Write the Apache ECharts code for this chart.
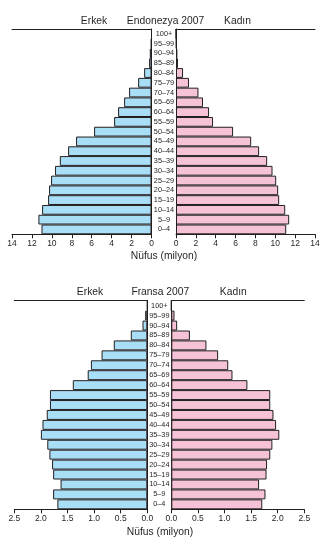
<!DOCTYPE html>
<html>
<head>
<meta charset="utf-8">
<script src="https://cdn.jsdelivr.net/npm/echarts@6/dist/echarts.min.js"></script>
<style>
html,body{margin:0;padding:0;background:#fff;}
#c{width:324px;height:553px;}
</style>
</head>
<body>
<div id="c"></div>
<script>
var ageGroups = ['0–4','5–9','10–14','15–19','20–24','25–29','30–34','35–39','40–44','45–49','50–54','55–59','60–64','65–69','70–74','75–79','80–84','85–89','90–94','95–99','100+'];
var indoMale   = [11.04,11.35,10.98,10.38,10.28,10.08,9.68,9.2,8.37,7.57,5.76,3.75,3.35,2.75,2.25,1.34,0.74,0.24,0.17,0.05,0];
var indoFemale = [11.1,11.4,11.0,10.39,10.29,10.09,9.72,9.18,8.37,7.57,5.75,3.73,3.33,2.72,2.26,1.31,0.71,0.2,0.14,0.05,0];
var franceMale   = [1.69,1.77,1.63,1.77,1.79,1.84,1.88,2.00,1.97,1.89,1.83,1.83,1.40,1.12,1.06,0.86,0.63,0.31,0.09,0.04,0];
var franceFemale = [1.71,1.77,1.65,1.79,1.80,1.86,1.90,2.03,1.97,1.92,1.86,1.86,1.43,1.15,1.07,0.88,0.66,0.35,0.11,0.06,0];
var indoTitle = 'Endonezya 2007';
var franceTitle = 'Fransa 2007';
var maleLabel = 'Erkek';
var femaleLabel = 'Kadın';
var axisTitle = 'Nüfus (milyon)';
var indoTicks = {min:0, max:14, interval:2};
var franceTicks = {min:0, max:2.5, interval:0.5};

var INK = '#231f20';
var BLUE = '#a9def7';
var PINK = '#f6c2d8';
var FONT = '"Liberation Sans", Arial, sans-serif';

var chart = echarts.init(document.getElementById('c'), null, {renderer:'canvas'});

var grids = [
  {left:12, top:29, width:139.5, height:205.3},
  {left:176, top:29, width:139, height:205.3},
  {left:14.3, top:300.7, width:133, height:208.6},
  {left:171.3, top:300.7, width:133, height:208.6}
];

var xAxes = [], yAxes = [], series = [];
function addSide(gi, ticks, inverse, decimals, data, color, showAgeLabels, labelMargin){
  xAxes.push({
    type:'value', gridIndex:gi, min:ticks.min, max:ticks.max, interval:ticks.interval,
    inverse:inverse, position:'bottom',
    axisLine:{show:true, lineStyle:{color:INK, width:1}},
    axisTick:{show:true, length:4, lineStyle:{color:INK, width:1}},
    axisLabel:{show:true, color:INK, fontSize:8.5, fontFamily:FONT, margin:5,
      showMinLabel:true, showMaxLabel:true,
      formatter:function(v){return v.toFixed(decimals);}},
    splitLine:{show:false}
  });
  xAxes.push({
    type:'value', gridIndex:gi, min:ticks.min, max:ticks.max, inverse:inverse, position:'top',
    axisLine:{show:true, onZero:false, lineStyle:{color:INK, width:1}},
    axisTick:{show:false}, axisLabel:{show:false}, splitLine:{show:false}
  });
  yAxes.push({
    type:'category', gridIndex:gi, data:ageGroups, position: inverse ? 'right' : 'left',
    axisLine:{show:true, onZero:false, lineStyle:{color:INK, width:1}},
    axisTick:{show:false},
    axisLabel:{show:showAgeLabels, color:INK, fontSize:7.3, fontFamily:FONT, align:'center', margin:labelMargin, interval:0},
    splitLine:{show:false}
  });
  series.push({
    type:'bar', xAxisIndex:xAxes.length-2, yAxisIndex:yAxes.length-1,
    data:data, barCategoryGap:'0%', barGap:'0%',
    itemStyle:{color:color, borderColor:INK, borderWidth:1},
    silent:true, animation:false
  });
}
addSide(0, indoTicks, true, 0, indoMale, BLUE, true, 12.5);
addSide(1, indoTicks, false, 0, indoFemale, PINK, false, 0);
addSide(2, franceTicks, true, 1, franceMale, BLUE, true, 12);
addSide(3, franceTicks, false, 1, franceFemale, PINK, false, 0);

function txt(x, y, s, size){
  return {type:'text', x:x, y:y, style:{text:s, fill:INK, font: size+'px '+FONT, textAlign:'center', textVerticalAlign:'middle'}};
}

chart.setOption({
  animation:false,
  grid:grids,
  xAxis:xAxes,
  yAxis:yAxes,
  series:series,
  graphic:[
    txt(94, 20.7, maleLabel, 10.3),
    txt(165.5, 20.7, indoTitle, 10.3),
    txt(237.5, 20.7, femaleLabel, 10.3),
    txt(164, 256.5, axisTitle, 10.3),
    txt(90, 291.7, maleLabel, 10.3),
    txt(160.3, 291.7, franceTitle, 10.3),
    txt(233.3, 291.7, femaleLabel, 10.3),
    txt(160, 532.5, axisTitle, 10.3)
  ]
});
</script>
</body>
</html>
